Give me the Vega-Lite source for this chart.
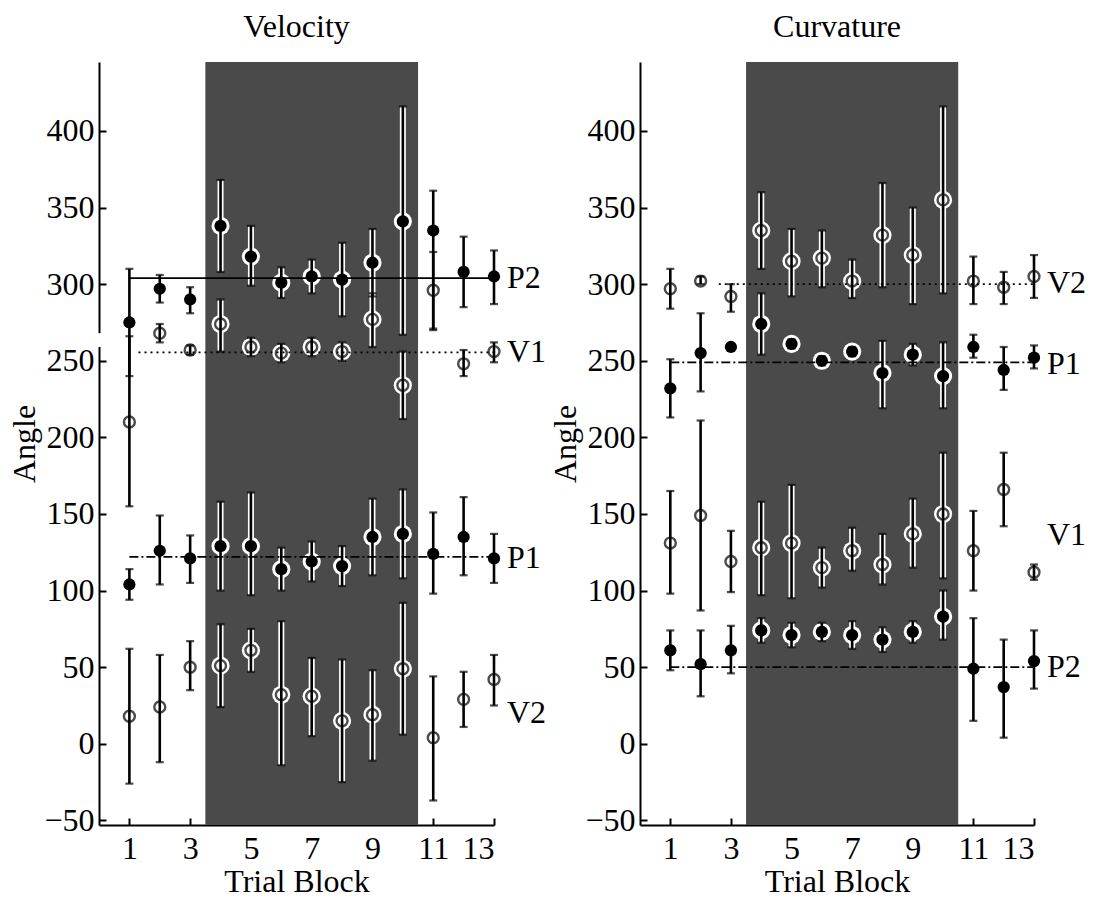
{
  "$schema": "https://vega.github.io/schema/vega-lite/v6.json",
  "background": "white",
  "padding": {"left": 8, "top": 11, "right": 5, "bottom": 5},
  "config": {
    "font": "Liberation Serif",
    "view": {"stroke": null},
    "axis": {
      "grid": false,
      "domainColor": "black",
      "domainWidth": 2,
      "tickColor": "black",
      "tickWidth": 2,
      "tickSize": -7,
      "labelFont": "Liberation Serif",
      "labelFontSize": 32,
      "labelColor": "black",
      "titleFont": "Liberation Serif",
      "titleFontSize": 32,
      "titleFontWeight": "normal",
      "titleColor": "black"
    },
    "title": {"font": "Liberation Serif", "fontSize": 32, "fontWeight": "normal", "color": "black", "offset": 18}
  },
  "datasets": {
    "obs": [
      {"panel": "Velocity", "series": "P2", "block": 1, "mean": 275, "lo": 240, "hi": 310},
      {"panel": "Velocity", "series": "P2", "block": 2, "mean": 297, "lo": 288, "hi": 306},
      {"panel": "Velocity", "series": "P2", "block": 3, "mean": 290, "lo": 281, "hi": 298},
      {"panel": "Velocity", "series": "P2", "block": 4, "mean": 338, "lo": 308, "hi": 368},
      {"panel": "Velocity", "series": "P2", "block": 5, "mean": 318, "lo": 299, "hi": 338},
      {"panel": "Velocity", "series": "P2", "block": 6, "mean": 301, "lo": 291, "hi": 311},
      {"panel": "Velocity", "series": "P2", "block": 7, "mean": 305, "lo": 294, "hi": 316},
      {"panel": "Velocity", "series": "P2", "block": 8, "mean": 303, "lo": 279, "hi": 327},
      {"panel": "Velocity", "series": "P2", "block": 9, "mean": 314, "lo": 292, "hi": 336},
      {"panel": "Velocity", "series": "P2", "block": 10, "mean": 341, "lo": 267, "hi": 416},
      {"panel": "Velocity", "series": "P2", "block": 11, "mean": 335, "lo": 270, "hi": 361},
      {"panel": "Velocity", "series": "P2", "block": 12, "mean": 308, "lo": 285, "hi": 331},
      {"panel": "Velocity", "series": "P2", "block": 13, "mean": 305, "lo": 287, "hi": 322},

      {"panel": "Velocity", "series": "V1", "block": 1, "mean": 210, "lo": 155, "hi": 266},
      {"panel": "Velocity", "series": "V1", "block": 2, "mean": 268, "lo": 262, "hi": 274},
      {"panel": "Velocity", "series": "V1", "block": 3, "mean": 257, "lo": 254, "hi": 260},
      {"panel": "Velocity", "series": "V1", "block": 4, "mean": 274, "lo": 256, "hi": 290},
      {"panel": "Velocity", "series": "V1", "block": 5, "mean": 259, "lo": 253, "hi": 265},
      {"panel": "Velocity", "series": "V1", "block": 6, "mean": 255, "lo": 249, "hi": 261},
      {"panel": "Velocity", "series": "V1", "block": 7, "mean": 259, "lo": 253, "hi": 265},
      {"panel": "Velocity", "series": "V1", "block": 8, "mean": 256, "lo": 250, "hi": 262},
      {"panel": "Velocity", "series": "V1", "block": 9, "mean": 277, "lo": 259, "hi": 294},
      {"panel": "Velocity", "series": "V1", "block": 10, "mean": 234, "lo": 212, "hi": 256},
      {"panel": "Velocity", "series": "V1", "block": 11, "mean": 296, "lo": 271, "hi": 321},
      {"panel": "Velocity", "series": "V1", "block": 12, "mean": 248, "lo": 240, "hi": 257},
      {"panel": "Velocity", "series": "V1", "block": 13, "mean": 256, "lo": 249, "hi": 262},

      {"panel": "Velocity", "series": "P1", "block": 1, "mean": 104, "lo": 94, "hi": 114},
      {"panel": "Velocity", "series": "P1", "block": 2, "mean": 126, "lo": 104, "hi": 149},
      {"panel": "Velocity", "series": "P1", "block": 3, "mean": 121, "lo": 105, "hi": 136},
      {"panel": "Velocity", "series": "P1", "block": 4, "mean": 129, "lo": 100, "hi": 158},
      {"panel": "Velocity", "series": "P1", "block": 5, "mean": 129, "lo": 97, "hi": 164},
      {"panel": "Velocity", "series": "P1", "block": 6, "mean": 114, "lo": 100, "hi": 128},
      {"panel": "Velocity", "series": "P1", "block": 7, "mean": 119, "lo": 106, "hi": 132},
      {"panel": "Velocity", "series": "P1", "block": 8, "mean": 116, "lo": 103, "hi": 129},
      {"panel": "Velocity", "series": "P1", "block": 9, "mean": 135, "lo": 110, "hi": 160},
      {"panel": "Velocity", "series": "P1", "block": 10, "mean": 137, "lo": 108, "hi": 166},
      {"panel": "Velocity", "series": "P1", "block": 11, "mean": 124, "lo": 98, "hi": 151},
      {"panel": "Velocity", "series": "P1", "block": 12, "mean": 135, "lo": 110, "hi": 161},
      {"panel": "Velocity", "series": "P1", "block": 13, "mean": 121, "lo": 105, "hi": 137},

      {"panel": "Velocity", "series": "V2", "block": 1, "mean": 18, "lo": -26, "hi": 62},
      {"panel": "Velocity", "series": "V2", "block": 2, "mean": 24, "lo": -12, "hi": 58},
      {"panel": "Velocity", "series": "V2", "block": 3, "mean": 50, "lo": 35, "hi": 67},
      {"panel": "Velocity", "series": "V2", "block": 4, "mean": 51, "lo": 24, "hi": 78},
      {"panel": "Velocity", "series": "V2", "block": 5, "mean": 61, "lo": 47, "hi": 75},
      {"panel": "Velocity", "series": "V2", "block": 6, "mean": 32, "lo": -14, "hi": 80},
      {"panel": "Velocity", "series": "V2", "block": 7, "mean": 31, "lo": 5, "hi": 56},
      {"panel": "Velocity", "series": "V2", "block": 8, "mean": 15, "lo": -25, "hi": 55},
      {"panel": "Velocity", "series": "V2", "block": 9, "mean": 19, "lo": -11, "hi": 48},
      {"panel": "Velocity", "series": "V2", "block": 10, "mean": 49, "lo": 6, "hi": 92},
      {"panel": "Velocity", "series": "V2", "block": 11, "mean": 4, "lo": -37, "hi": 44},
      {"panel": "Velocity", "series": "V2", "block": 12, "mean": 29, "lo": 11, "hi": 47},
      {"panel": "Velocity", "series": "V2", "block": 13, "mean": 42, "lo": 25, "hi": 58},

      {"panel": "Curvature", "series": "V2", "block": 1, "mean": 297, "lo": 284, "hi": 310},
      {"panel": "Curvature", "series": "V2", "block": 2, "mean": 302, "lo": 300, "hi": 305},
      {"panel": "Curvature", "series": "V2", "block": 3, "mean": 292, "lo": 282, "hi": 300},
      {"panel": "Curvature", "series": "V2", "block": 4, "mean": 335, "lo": 310, "hi": 360},
      {"panel": "Curvature", "series": "V2", "block": 5, "mean": 315, "lo": 292, "hi": 336},
      {"panel": "Curvature", "series": "V2", "block": 6, "mean": 317, "lo": 298, "hi": 335},
      {"panel": "Curvature", "series": "V2", "block": 7, "mean": 302, "lo": 291, "hi": 316},
      {"panel": "Curvature", "series": "V2", "block": 8, "mean": 332, "lo": 298, "hi": 366},
      {"panel": "Curvature", "series": "V2", "block": 9, "mean": 319, "lo": 287, "hi": 350},
      {"panel": "Curvature", "series": "V2", "block": 10, "mean": 355, "lo": 294, "hi": 416},
      {"panel": "Curvature", "series": "V2", "block": 11, "mean": 302, "lo": 287, "hi": 318},
      {"panel": "Curvature", "series": "V2", "block": 12, "mean": 298, "lo": 287, "hi": 308},
      {"panel": "Curvature", "series": "V2", "block": 13, "mean": 305, "lo": 291, "hi": 319},

      {"panel": "Curvature", "series": "P1", "block": 1, "mean": 232, "lo": 213, "hi": 251},
      {"panel": "Curvature", "series": "P1", "block": 2, "mean": 255, "lo": 230, "hi": 281},
      {"panel": "Curvature", "series": "P1", "block": 3, "mean": 259, "lo": 257, "hi": 261},
      {"panel": "Curvature", "series": "P1", "block": 4, "mean": 274, "lo": 254, "hi": 294},
      {"panel": "Curvature", "series": "P1", "block": 5, "mean": 261, "lo": 258, "hi": 264},
      {"panel": "Curvature", "series": "P1", "block": 6, "mean": 250, "lo": 247, "hi": 253},
      {"panel": "Curvature", "series": "P1", "block": 7, "mean": 256, "lo": 253, "hi": 259},
      {"panel": "Curvature", "series": "P1", "block": 8, "mean": 242, "lo": 219, "hi": 263},
      {"panel": "Curvature", "series": "P1", "block": 9, "mean": 254, "lo": 247, "hi": 261},
      {"panel": "Curvature", "series": "P1", "block": 10, "mean": 240, "lo": 219, "hi": 262},
      {"panel": "Curvature", "series": "P1", "block": 11, "mean": 259, "lo": 252, "hi": 267},
      {"panel": "Curvature", "series": "P1", "block": 12, "mean": 244, "lo": 231, "hi": 259},
      {"panel": "Curvature", "series": "P1", "block": 13, "mean": 252, "lo": 245, "hi": 260},

      {"panel": "Curvature", "series": "V1", "block": 1, "mean": 131, "lo": 98, "hi": 165},
      {"panel": "Curvature", "series": "V1", "block": 2, "mean": 149, "lo": 87, "hi": 211},
      {"panel": "Curvature", "series": "V1", "block": 3, "mean": 119, "lo": 99, "hi": 139},
      {"panel": "Curvature", "series": "V1", "block": 4, "mean": 128, "lo": 97, "hi": 158},
      {"panel": "Curvature", "series": "V1", "block": 5, "mean": 131, "lo": 95, "hi": 169},
      {"panel": "Curvature", "series": "V1", "block": 6, "mean": 115, "lo": 102, "hi": 128},
      {"panel": "Curvature", "series": "V1", "block": 7, "mean": 126, "lo": 113, "hi": 141},
      {"panel": "Curvature", "series": "V1", "block": 8, "mean": 117, "lo": 104, "hi": 137},
      {"panel": "Curvature", "series": "V1", "block": 9, "mean": 137, "lo": 115, "hi": 160},
      {"panel": "Curvature", "series": "V1", "block": 10, "mean": 150, "lo": 108, "hi": 190},
      {"panel": "Curvature", "series": "V1", "block": 11, "mean": 126, "lo": 100, "hi": 152},
      {"panel": "Curvature", "series": "V1", "block": 12, "mean": 166, "lo": 142, "hi": 190},
      {"panel": "Curvature", "series": "V1", "block": 13, "mean": 112, "lo": 107, "hi": 117},

      {"panel": "Curvature", "series": "P2", "block": 1, "mean": 61, "lo": 48, "hi": 74},
      {"panel": "Curvature", "series": "P2", "block": 2, "mean": 52, "lo": 31, "hi": 74},
      {"panel": "Curvature", "series": "P2", "block": 3, "mean": 61, "lo": 46, "hi": 77},
      {"panel": "Curvature", "series": "P2", "block": 4, "mean": 74, "lo": 66, "hi": 82},
      {"panel": "Curvature", "series": "P2", "block": 5, "mean": 71, "lo": 63, "hi": 79},
      {"panel": "Curvature", "series": "P2", "block": 6, "mean": 73, "lo": 67, "hi": 79},
      {"panel": "Curvature", "series": "P2", "block": 7, "mean": 71, "lo": 62, "hi": 80},
      {"panel": "Curvature", "series": "P2", "block": 8, "mean": 68, "lo": 60, "hi": 76},
      {"panel": "Curvature", "series": "P2", "block": 9, "mean": 73, "lo": 66, "hi": 80},
      {"panel": "Curvature", "series": "P2", "block": 10, "mean": 83, "lo": 68, "hi": 100},
      {"panel": "Curvature", "series": "P2", "block": 11, "mean": 49, "lo": 15, "hi": 82},
      {"panel": "Curvature", "series": "P2", "block": 12, "mean": 37, "lo": 4, "hi": 68},
      {"panel": "Curvature", "series": "P2", "block": 13, "mean": 54, "lo": 36, "hi": 74}
    ],
    "refs": [
      {"panel": "Velocity", "series": "P2", "value": 304, "from": 1, "to": 13, "style": "solid"},
      {"panel": "Velocity", "series": "V1", "value": 255.5, "from": 1.3, "to": 13, "style": "dotted"},
      {"panel": "Velocity", "series": "P1", "value": 122, "from": 1, "to": 13, "style": "dashdot"},
      {"panel": "Curvature", "series": "V2", "value": 300, "from": 2.6, "to": 13, "style": "dotted"},
      {"panel": "Curvature", "series": "P1", "value": 249, "from": 1, "to": 13, "style": "dashdot"},
      {"panel": "Curvature", "series": "P2", "value": 50, "from": 1, "to": 13, "style": "dashdot"}
    ],
    "tags": [
      {"panel": "Velocity", "series": "P2", "value": 304},
      {"panel": "Velocity", "series": "V1", "value": 256},
      {"panel": "Velocity", "series": "P1", "value": 121},
      {"panel": "Velocity", "series": "V2", "value": 20},
      {"panel": "Curvature", "series": "V2", "value": 301},
      {"panel": "Curvature", "series": "P1", "value": 248},
      {"panel": "Curvature", "series": "V1", "value": 136},
      {"panel": "Curvature", "series": "P2", "value": 50}
    ],
    "phases": [
      {"panel": "Velocity", "start": 3.5, "end": 10.5},
      {"panel": "Curvature", "start": 3.5, "end": 10.5}
    ],
    "breaks": [
      {"panel": "Velocity", "from": 259, "to": 268}
    ]
  },
  "spacing": 146,
  "bounds": "flush",
  "hconcat": [
    {
      "title": "Velocity",
      "width": 395,
      "height": 763,
      "layer": [
        {
          "data": {"name": "phases"},
          "transform": [{"filter": "datum.panel === 'Velocity'"}],
          "mark": {"type": "rect", "color": "#4a4a4a"},
          "encoding": {
            "x": {"field": "start", "type": "quantitative", "scale": {"domain": [0, 13], "nice": false, "zero": false},
                  "axis": {"values": [1, 3, 5, 7, 9, 11, 13], "title": "Trial Block", "labelPadding": 15, "titlePadding": 2}},
            "x2": {"field": "end"}
          }
        },
        {
          "data": {"name": "obs"},
          "transform": [{"filter": "datum.panel === 'Velocity' && datum.block >= 4 && datum.block <= 10"}],
          "mark": {"type": "rule", "color": "white", "strokeWidth": 6},
          "encoding": {
            "x": {"field": "block", "type": "quantitative", "scale": {"domain": [0, 13], "nice": false, "zero": false},
                  "axis": {"values": [1, 3, 5, 7, 9, 11, 13], "title": "Trial Block", "labelPadding": 15, "titlePadding": 2}},
            "y": {"field": "lo", "type": "quantitative", "scale": {"domain": [-53, 445], "nice": false, "zero": false},
                  "axis": {"values": [-50, 0, 50, 100, 150, 200, 250, 300, 350, 400], "title": "Angle", "labelPadding": 12, "titlePadding": 2}},
            "y2": {"field": "hi"}
          }
        },
        {
          "data": {"name": "obs"},
          "transform": [{"filter": "datum.panel === 'Velocity' && datum.block >= 4 && datum.block <= 10"}],
          "mark": {"type": "circle", "color": "white", "opacity": 1, "size": 330},
          "encoding": {
            "x": {"field": "block", "type": "quantitative", "scale": {"domain": [0, 13], "nice": false, "zero": false},
                  "axis": {"values": [1, 3, 5, 7, 9, 11, 13], "title": "Trial Block", "labelPadding": 15, "titlePadding": 2}},
            "y": {"field": "mean", "type": "quantitative", "scale": {"domain": [-53, 445], "nice": false, "zero": false},
                  "axis": {"values": [-50, 0, 50, 100, 150, 200, 250, 300, 350, 400], "title": "Angle", "labelPadding": 12, "titlePadding": 2}}
          }
        },
        {
          "data": {"name": "refs"},
          "transform": [{"filter": "datum.panel === 'Velocity'"}],
          "mark": {"type": "rule", "color": "black", "strokeWidth": 1.8},
          "encoding": {
            "x": {"field": "from", "type": "quantitative", "scale": {"domain": [0, 13], "nice": false, "zero": false},
                  "axis": {"values": [1, 3, 5, 7, 9, 11, 13], "title": "Trial Block", "labelPadding": 15, "titlePadding": 2}},
            "x2": {"field": "to"},
            "y": {"field": "value", "type": "quantitative", "scale": {"domain": [-53, 445], "nice": false, "zero": false},
                  "axis": {"values": [-50, 0, 50, 100, 150, 200, 250, 300, 350, 400], "title": "Angle", "labelPadding": 12, "titlePadding": 2}},
            "strokeDash": {"field": "style", "type": "nominal", "legend": null,
                           "scale": {"domain": ["solid", "dotted", "dashdot"], "range": [[1, 0], [2, 4], [9, 3, 2, 3]]}}
          }
        },
        {
          "data": {"name": "obs"},
          "transform": [{"filter": "datum.panel === 'Velocity'"}],
          "mark": {"type": "rule", "color": "black", "strokeWidth": 2.6},
          "encoding": {
            "x": {"field": "block", "type": "quantitative", "scale": {"domain": [0, 13], "nice": false, "zero": false},
                  "axis": {"values": [1, 3, 5, 7, 9, 11, 13], "title": "Trial Block", "labelPadding": 15, "titlePadding": 2}},
            "y": {"field": "lo", "type": "quantitative", "scale": {"domain": [-53, 445], "nice": false, "zero": false},
                  "axis": {"values": [-50, 0, 50, 100, 150, 200, 250, 300, 350, 400], "title": "Angle", "labelPadding": 12, "titlePadding": 2}},
            "y2": {"field": "hi"}
          }
        },
        {
          "data": {"name": "obs"},
          "transform": [{"filter": "datum.panel === 'Velocity'"}, {"fold": ["lo", "hi"], "as": ["end", "cap"]}],
          "mark": {"type": "tick", "orient": "horizontal", "color": "black", "size": 8, "thickness": 2.2},
          "encoding": {
            "x": {"field": "block", "type": "quantitative", "scale": {"domain": [0, 13], "nice": false, "zero": false},
                  "axis": {"values": [1, 3, 5, 7, 9, 11, 13], "title": "Trial Block", "labelPadding": 15, "titlePadding": 2}},
            "y": {"field": "cap", "type": "quantitative", "scale": {"domain": [-53, 445], "nice": false, "zero": false},
                  "axis": {"values": [-50, 0, 50, 100, 150, 200, 250, 300, 350, 400], "title": "Angle", "labelPadding": 12, "titlePadding": 2}}
          }
        },
        {
          "data": {"name": "obs"},
          "transform": [{"filter": "datum.panel === 'Velocity' && (datum.series === 'V1' || datum.series === 'V2')"}],
          "mark": {"type": "point", "shape": "circle", "filled": false, "color": "black", "strokeWidth": 2.4, "size": 120},
          "encoding": {
            "x": {"field": "block", "type": "quantitative", "scale": {"domain": [0, 13], "nice": false, "zero": false},
                  "axis": {"values": [1, 3, 5, 7, 9, 11, 13], "title": "Trial Block", "labelPadding": 15, "titlePadding": 2}},
            "y": {"field": "mean", "type": "quantitative", "scale": {"domain": [-53, 445], "nice": false, "zero": false},
                  "axis": {"values": [-50, 0, 50, 100, 150, 200, 250, 300, 350, 400], "title": "Angle", "labelPadding": 12, "titlePadding": 2}}
          }
        },
        {
          "data": {"name": "obs"},
          "transform": [{"filter": "datum.panel === 'Velocity' && (datum.series === 'P1' || datum.series === 'P2')"}],
          "mark": {"type": "circle", "color": "black", "opacity": 1, "size": 150},
          "encoding": {
            "x": {"field": "block", "type": "quantitative", "scale": {"domain": [0, 13], "nice": false, "zero": false},
                  "axis": {"values": [1, 3, 5, 7, 9, 11, 13], "title": "Trial Block", "labelPadding": 15, "titlePadding": 2}},
            "y": {"field": "mean", "type": "quantitative", "scale": {"domain": [-53, 445], "nice": false, "zero": false},
                  "axis": {"values": [-50, 0, 50, 100, 150, 200, 250, 300, 350, 400], "title": "Angle", "labelPadding": 12, "titlePadding": 2}}
          }
        },
        {
          "data": {"name": "tags"},
          "transform": [{"filter": "datum.panel === 'Velocity'"}],
          "mark": {"type": "text", "align": "left", "baseline": "middle", "dx": 13, "fontSize": 32, "font": "Liberation Serif", "color": "black"},
          "encoding": {
            "x": {"datum": 13, "type": "quantitative", "scale": {"domain": [0, 13], "nice": false, "zero": false},
                  "axis": {"values": [1, 3, 5, 7, 9, 11, 13], "title": "Trial Block", "labelPadding": 15, "titlePadding": 2}},
            "y": {"field": "value", "type": "quantitative", "scale": {"domain": [-53, 445], "nice": false, "zero": false},
                  "axis": {"values": [-50, 0, 50, 100, 150, 200, 250, 300, 350, 400], "title": "Angle", "labelPadding": 12, "titlePadding": 2}},
            "text": {"field": "series"}
          }
        },
        {
          "data": {"name": "breaks"},
          "transform": [{"filter": "datum.panel === 'Velocity'"}],
          "mark": {"type": "rule", "color": "white", "strokeWidth": 7, "clip": false},
          "encoding": {
            "x": {"datum": 0, "type": "quantitative", "scale": {"domain": [0, 13], "nice": false, "zero": false},
                  "axis": {"values": [1, 3, 5, 7, 9, 11, 13], "title": "Trial Block", "labelPadding": 15, "titlePadding": 2}},
            "y": {"field": "from", "type": "quantitative", "scale": {"domain": [-53, 445], "nice": false, "zero": false},
                  "axis": {"values": [-50, 0, 50, 100, 150, 200, 250, 300, 350, 400], "title": "Angle", "labelPadding": 12, "titlePadding": 2}},
            "y2": {"field": "to"}
          }
        }
      ]
    },
    {
      "title": "Curvature",
      "width": 394,
      "height": 763,
      "layer": [
        {
          "data": {"name": "phases"},
          "transform": [{"filter": "datum.panel === 'Curvature'"}],
          "mark": {"type": "rect", "color": "#4a4a4a"},
          "encoding": {
            "x": {"field": "start", "type": "quantitative", "scale": {"domain": [0, 13], "nice": false, "zero": false},
                  "axis": {"values": [1, 3, 5, 7, 9, 11, 13], "title": "Trial Block", "labelPadding": 15, "titlePadding": 2}},
            "x2": {"field": "end"}
          }
        },
        {
          "data": {"name": "obs"},
          "transform": [{"filter": "datum.panel === 'Curvature' && datum.block >= 4 && datum.block <= 10"}],
          "mark": {"type": "rule", "color": "white", "strokeWidth": 6},
          "encoding": {
            "x": {"field": "block", "type": "quantitative", "scale": {"domain": [0, 13], "nice": false, "zero": false},
                  "axis": {"values": [1, 3, 5, 7, 9, 11, 13], "title": "Trial Block", "labelPadding": 15, "titlePadding": 2}},
            "y": {"field": "lo", "type": "quantitative", "scale": {"domain": [-53, 445], "nice": false, "zero": false},
                  "axis": {"values": [-50, 0, 50, 100, 150, 200, 250, 300, 350, 400], "title": "Angle", "labelPadding": 12, "titlePadding": 2}},
            "y2": {"field": "hi"}
          }
        },
        {
          "data": {"name": "obs"},
          "transform": [{"filter": "datum.panel === 'Curvature' && datum.block >= 4 && datum.block <= 10"}],
          "mark": {"type": "circle", "color": "white", "opacity": 1, "size": 330},
          "encoding": {
            "x": {"field": "block", "type": "quantitative", "scale": {"domain": [0, 13], "nice": false, "zero": false},
                  "axis": {"values": [1, 3, 5, 7, 9, 11, 13], "title": "Trial Block", "labelPadding": 15, "titlePadding": 2}},
            "y": {"field": "mean", "type": "quantitative", "scale": {"domain": [-53, 445], "nice": false, "zero": false},
                  "axis": {"values": [-50, 0, 50, 100, 150, 200, 250, 300, 350, 400], "title": "Angle", "labelPadding": 12, "titlePadding": 2}}
          }
        },
        {
          "data": {"name": "refs"},
          "transform": [{"filter": "datum.panel === 'Curvature'"}],
          "mark": {"type": "rule", "color": "black", "strokeWidth": 1.8},
          "encoding": {
            "x": {"field": "from", "type": "quantitative", "scale": {"domain": [0, 13], "nice": false, "zero": false},
                  "axis": {"values": [1, 3, 5, 7, 9, 11, 13], "title": "Trial Block", "labelPadding": 15, "titlePadding": 2}},
            "x2": {"field": "to"},
            "y": {"field": "value", "type": "quantitative", "scale": {"domain": [-53, 445], "nice": false, "zero": false},
                  "axis": {"values": [-50, 0, 50, 100, 150, 200, 250, 300, 350, 400], "title": "Angle", "labelPadding": 12, "titlePadding": 2}},
            "strokeDash": {"field": "style", "type": "nominal", "legend": null,
                           "scale": {"domain": ["solid", "dotted", "dashdot"], "range": [[1, 0], [2, 4], [9, 3, 2, 3]]}}
          }
        },
        {
          "data": {"name": "obs"},
          "transform": [{"filter": "datum.panel === 'Curvature'"}],
          "mark": {"type": "rule", "color": "black", "strokeWidth": 2.6},
          "encoding": {
            "x": {"field": "block", "type": "quantitative", "scale": {"domain": [0, 13], "nice": false, "zero": false},
                  "axis": {"values": [1, 3, 5, 7, 9, 11, 13], "title": "Trial Block", "labelPadding": 15, "titlePadding": 2}},
            "y": {"field": "lo", "type": "quantitative", "scale": {"domain": [-53, 445], "nice": false, "zero": false},
                  "axis": {"values": [-50, 0, 50, 100, 150, 200, 250, 300, 350, 400], "title": "Angle", "labelPadding": 12, "titlePadding": 2}},
            "y2": {"field": "hi"}
          }
        },
        {
          "data": {"name": "obs"},
          "transform": [{"filter": "datum.panel === 'Curvature'"}, {"fold": ["lo", "hi"], "as": ["end", "cap"]}],
          "mark": {"type": "tick", "orient": "horizontal", "color": "black", "size": 8, "thickness": 2.2},
          "encoding": {
            "x": {"field": "block", "type": "quantitative", "scale": {"domain": [0, 13], "nice": false, "zero": false},
                  "axis": {"values": [1, 3, 5, 7, 9, 11, 13], "title": "Trial Block", "labelPadding": 15, "titlePadding": 2}},
            "y": {"field": "cap", "type": "quantitative", "scale": {"domain": [-53, 445], "nice": false, "zero": false},
                  "axis": {"values": [-50, 0, 50, 100, 150, 200, 250, 300, 350, 400], "title": "Angle", "labelPadding": 12, "titlePadding": 2}}
          }
        },
        {
          "data": {"name": "obs"},
          "transform": [{"filter": "datum.panel === 'Curvature' && (datum.series === 'V1' || datum.series === 'V2')"}],
          "mark": {"type": "point", "shape": "circle", "filled": false, "color": "black", "strokeWidth": 2.4, "size": 120},
          "encoding": {
            "x": {"field": "block", "type": "quantitative", "scale": {"domain": [0, 13], "nice": false, "zero": false},
                  "axis": {"values": [1, 3, 5, 7, 9, 11, 13], "title": "Trial Block", "labelPadding": 15, "titlePadding": 2}},
            "y": {"field": "mean", "type": "quantitative", "scale": {"domain": [-53, 445], "nice": false, "zero": false},
                  "axis": {"values": [-50, 0, 50, 100, 150, 200, 250, 300, 350, 400], "title": "Angle", "labelPadding": 12, "titlePadding": 2}}
          }
        },
        {
          "data": {"name": "obs"},
          "transform": [{"filter": "datum.panel === 'Curvature' && (datum.series === 'P1' || datum.series === 'P2')"}],
          "mark": {"type": "circle", "color": "black", "opacity": 1, "size": 150},
          "encoding": {
            "x": {"field": "block", "type": "quantitative", "scale": {"domain": [0, 13], "nice": false, "zero": false},
                  "axis": {"values": [1, 3, 5, 7, 9, 11, 13], "title": "Trial Block", "labelPadding": 15, "titlePadding": 2}},
            "y": {"field": "mean", "type": "quantitative", "scale": {"domain": [-53, 445], "nice": false, "zero": false},
                  "axis": {"values": [-50, 0, 50, 100, 150, 200, 250, 300, 350, 400], "title": "Angle", "labelPadding": 12, "titlePadding": 2}}
          }
        },
        {
          "data": {"name": "tags"},
          "transform": [{"filter": "datum.panel === 'Curvature'"}],
          "mark": {"type": "text", "align": "left", "baseline": "middle", "dx": 13, "fontSize": 32, "font": "Liberation Serif", "color": "black"},
          "encoding": {
            "x": {"datum": 13, "type": "quantitative", "scale": {"domain": [0, 13], "nice": false, "zero": false},
                  "axis": {"values": [1, 3, 5, 7, 9, 11, 13], "title": "Trial Block", "labelPadding": 15, "titlePadding": 2}},
            "y": {"field": "value", "type": "quantitative", "scale": {"domain": [-53, 445], "nice": false, "zero": false},
                  "axis": {"values": [-50, 0, 50, 100, 150, 200, 250, 300, 350, 400], "title": "Angle", "labelPadding": 12, "titlePadding": 2}},
            "text": {"field": "series"}
          }
        }
      ]
    }
  ]
}
